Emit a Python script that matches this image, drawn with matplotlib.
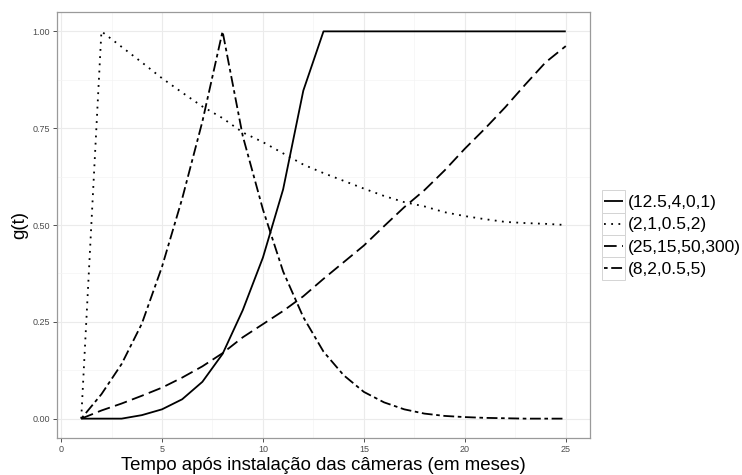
import matplotlib
matplotlib.use('Agg')
import matplotlib.pyplot as plt
from matplotlib.legend_handler import HandlerBase
from matplotlib.lines import Line2D
from matplotlib.patches import Rectangle

plt.rcParams['font.family'] = ['Liberation Sans', 'DejaVu Sans']

meses = list(range(1, 26))

serie_solida = [0, 0, 0, 0.009, 0.024, 0.05, 0.095, 0.167, 0.28, 0.416, 0.592, 0.847,
                1, 1, 1, 1, 1, 1, 1, 1, 1, 1, 1, 1, 1]
serie_pontos = [0, 1.0, 0.96, 0.92, 0.879, 0.842, 0.806, 0.776, 0.739, 0.714, 0.685, 0.656,
                0.634, 0.614, 0.594, 0.575, 0.559, 0.548, 0.533, 0.523, 0.515, 0.508,
                0.505, 0.503, 0.50]
serie_longa = [0, 0.021, 0.039, 0.059, 0.08, 0.106, 0.135, 0.169, 0.21, 0.244, 0.278, 0.316,
               0.361, 0.404, 0.447, 0.497, 0.546, 0.59, 0.641, 0.697, 0.749, 0.804,
               0.863, 0.92, 0.962]
serie_dupla = [0, 0.063, 0.141, 0.245, 0.392, 0.568, 0.767, 1.0, 0.73, 0.54, 0.38, 0.262,
               0.173, 0.112, 0.069, 0.042, 0.024, 0.013, 0.007, 0.004, 0.002, 0.001,
               0.0, 0.0, 0.0]

rotulos = ['(12.5,4,0,1)', '(2,1,0.5,2)', '(25,15,50,300)', '(8,2,0.5,5)']
tracos = ['-', (0, (1, 3)), (0, (7, 3)), (0, (2, 2, 6, 2))]
espessura = 1.3


class CaixaChave(HandlerBase):
    # chave de legenda com caixinha cinza, estilo ggplot
    def create_artists(self, legend, orig_handle, xdescent, ydescent, width, height,
                       fontsize, trans):
        caixa = Rectangle((-xdescent, -ydescent), width, height, facecolor='white',
                          edgecolor='#d4d4d4', lw=0.7, transform=trans)
        m = 0.09 * width
        y = height / 2 - ydescent
        estilo = tracos[rotulos.index(orig_handle.get_label())]
        linha = Line2D([-xdescent + m, -xdescent + width - m], [y, y], color='black',
                       lw=espessura, linestyle=estilo, solid_capstyle='butt',
                       dash_capstyle='butt', transform=trans)
        return [caixa, linha]


fig = plt.figure(figsize=(7.42, 4.75), dpi=100)
ax = fig.add_axes([57 / 742, 1 - 438 / 475, (590 - 57) / 742, (438 - 12) / 475])

series = [serie_solida, serie_pontos, serie_longa, serie_dupla]
linhas = []
for s, ls, rot in zip(series, tracos, rotulos):
    l, = ax.plot(meses, s, color='black', lw=espessura, linestyle=ls, label=rot,
                 solid_capstyle='butt', dash_capstyle='butt')
    linhas.append(l)

ax.set_xlim(-0.2, 26.2)
ax.set_ylim(-0.05, 1.05)
ax.set_xticks([0, 5, 10, 15, 20, 25])
ax.set_yticks([0, 0.25, 0.5, 0.75, 1.0])
ax.set_yticklabels(['0.00', '0.25', '0.50', '0.75', '1.00'])
ax.set_xticks([2.5, 7.5, 12.5, 17.5, 22.5], minor=True)
ax.set_yticks([0.125, 0.375, 0.625, 0.875], minor=True)
ax.grid(which='major', color='#ebebeb', lw=0.8)
ax.grid(which='minor', color='#f4f4f4', lw=0.5)
ax.set_axisbelow(True)
ax.tick_params(which='major', length=3, width=0.6, color='#333333', labelsize=6.5,
               labelcolor='#4d4d4d', pad=2)
ax.tick_params(which='minor', length=0)
for sp in ax.spines.values():
    sp.set_color('#9a9a9a')
    sp.set_linewidth(0.9)

ax.set_xlabel('Tempo após instalação das câmeras (em meses)', fontsize=13.4, labelpad=2)
ax.set_ylabel('g(t)', fontsize=13.4, labelpad=3)

fig.legend(handles=linhas, loc='center left', bbox_to_anchor=(602 / 742, 0.5055),
           bbox_transform=fig.transFigure, frameon=False, fontsize=12.5,
           handler_map={Line2D: CaixaChave()}, handlelength=1.3, handleheight=1.6,
           labelspacing=0, handletextpad=0.2, borderpad=0, borderaxespad=0)

fig.savefig('out.png', dpi=100)
